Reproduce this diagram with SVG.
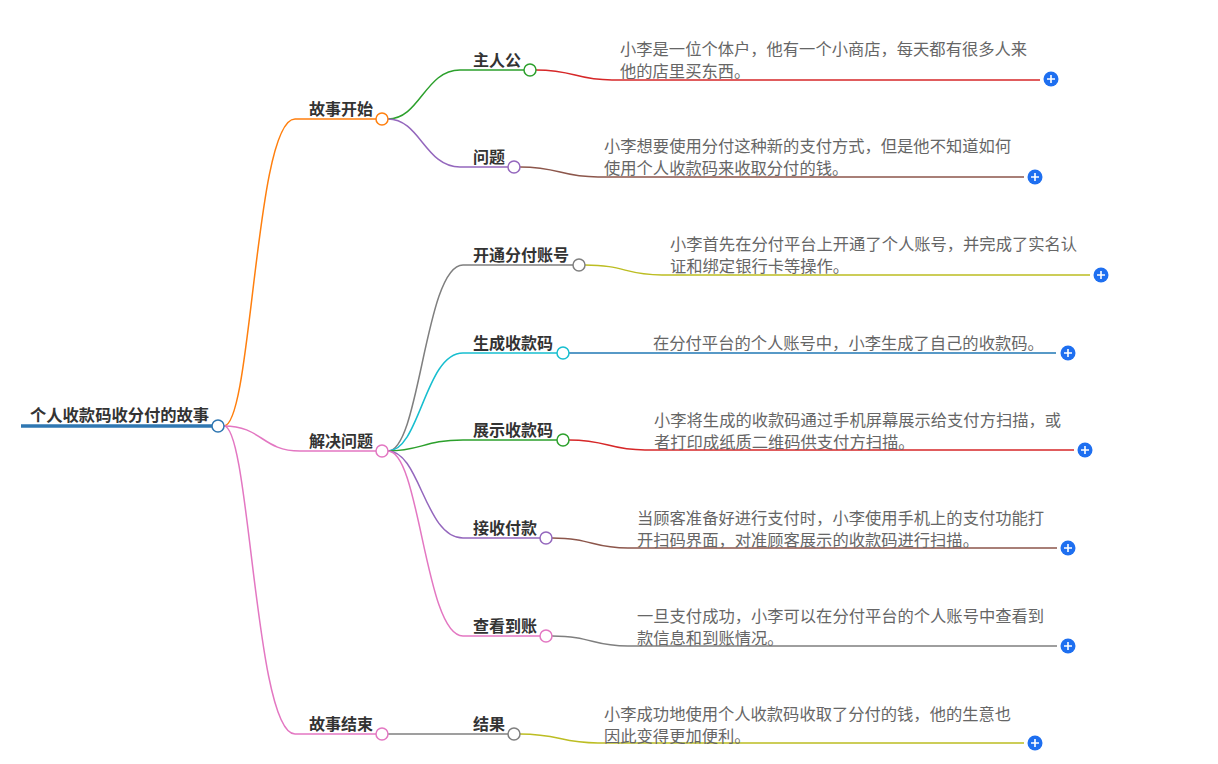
<svg xmlns="http://www.w3.org/2000/svg" width="1218" height="764" viewBox="0 0 1218 764">
<style>
.c{fill:none;stroke-width:1.5}
.n{fill:#fff;stroke-width:1.5}
.t0{font-family:"Noto Sans CJK SC","Noto Sans",sans-serif;font-size:16.3px;font-weight:bold;fill:#333}
.t1{font-family:"Noto Sans CJK SC","Noto Sans",sans-serif;font-size:16px;font-weight:bold;fill:#333}
.t2{font-family:"Noto Sans CJK SC","Noto Sans",sans-serif;font-size:16px;font-weight:bold;fill:#333}
.tl{font-family:"Noto Sans CJK SC","Noto Sans",sans-serif;font-size:16.3px;fill:#666}
.pb{fill:#1e6ff0}
.pl{stroke:#fff;stroke-width:1.6}
</style>
<defs>
<g id="plus"><circle r="7.5" class="pb"/><path d="M-4,0H4M0,-4V4" class="pl"/></g>
</defs>
<rect width="1218" height="764" fill="#fff"/>
<g id="connectors">
<path class="c" stroke="#ff7f0e" d="M224,426 C252,426 255,119 295,119 L376,119"/>
<path class="c" stroke="#e377c2" d="M224,426 C262,426 262,451 300,451 L376,451"/>
<path class="c" stroke="#e377c2" d="M224,426 C250,426 255,734 295,734 L376,734"/>
<path class="c" stroke="#2ca02c" d="M388,119 C420,119 425,70 460,70 L524,70"/>
<path class="c" stroke="#9467bd" d="M388,119 C420,119 425,167 460,167 L508,167"/>
<path class="c" stroke="#7f7f7f" d="M388,451 C420,451 425,265 463,265 L573,265"/>
<path class="c" stroke="#17becf" d="M388,451 C420,451 425,353 463,353 L557,353"/>
<path class="c" stroke="#2ca02c" d="M388,451 C420,451 425,440 463,440 L557,440"/>
<path class="c" stroke="#9467bd" d="M388,451 C420,451 425,538 463,538 L540,538"/>
<path class="c" stroke="#e377c2" d="M388,451 C420,451 425,636 463,636 L540,636"/>
<path class="c" stroke="#7f7f7f" d="M388,734 L508,734"/>
<path class="c" stroke="#d62728" d="M536,70 C575,70 575,80 612,80 L1040,80"/>
<path class="c" stroke="#8c564b" d="M520,167 C560,167 560,177 598,177 L1024,177"/>
<path class="c" stroke="#bcbd22" d="M585,265 C625,265 625,275 662,275 L1090,275"/>
<path class="c" stroke="#1f77b4" d="M569,353 L1056,353"/>
<path class="c" stroke="#d62728" d="M569,440 C608,440 608,450 645,450 L1074,450"/>
<path class="c" stroke="#8c564b" d="M552,538 C592,538 592,548 628,548 L1057,548"/>
<path class="c" stroke="#7f7f7f" d="M552,636 C592,636 592,646 628,646 L1057,646"/>
<path class="c" stroke="#bcbd22" d="M520,734 C560,734 560,743 598,743 L1024,743"/>
</g>
<g id="root">
<path d="M21,426 H212" stroke="#2f77b2" stroke-width="3.5"/>
<text class="t0" x="30" y="421">个人收款码收分付的故事</text>
<circle class="n" cx="218" cy="426" r="6" stroke="#2f77b2"/>
</g>
<g id="n-start"><text class="t1" x="309" y="115">故事开始</text><circle class="n" cx="382" cy="119" r="6" stroke="#ff7f0e"/></g>
<g id="n-solve"><text class="t1" x="309" y="447">解决问题</text><circle class="n" cx="382" cy="451" r="6" stroke="#e377c2"/></g>
<g id="n-end"><text class="t1" x="309" y="730">故事结束</text><circle class="n" cx="382" cy="734" r="6" stroke="#e377c2"/></g>
<g id="n-hero"><text class="t2" x="473" y="66">主人公</text><circle class="n" cx="530" cy="70" r="6" stroke="#2ca02c"/></g>
<g id="n-problem"><text class="t2" x="473" y="163">问题</text><circle class="n" cx="514" cy="167" r="6" stroke="#9467bd"/></g>
<g id="n-open"><text class="t2" x="473" y="261">开通分付账号</text><circle class="n" cx="579" cy="265" r="6" stroke="#7f7f7f"/></g>
<g id="n-gen"><text class="t2" x="473" y="349">生成收款码</text><circle class="n" cx="563" cy="353" r="6" stroke="#17becf"/></g>
<g id="n-show"><text class="t2" x="473" y="436">展示收款码</text><circle class="n" cx="563" cy="440" r="6" stroke="#2ca02c"/></g>
<g id="n-recv"><text class="t2" x="473" y="534">接收付款</text><circle class="n" cx="546" cy="538" r="6" stroke="#9467bd"/></g>
<g id="n-check"><text class="t2" x="473" y="632">查看到账</text><circle class="n" cx="546" cy="636" r="6" stroke="#e377c2"/></g>
<g id="n-result"><text class="t2" x="473" y="730">结果</text><circle class="n" cx="514" cy="734" r="6" stroke="#7f7f7f"/></g>
<g id="l-hero"><text class="tl" x="620" y="55">小李是一位个体户，他有一个小商店，每天都有很多人来</text><text class="tl" x="620" y="77">他的店里买东西。</text><use href="#plus" x="1051" y="79"/></g>
<g id="l-problem"><text class="tl" x="604" y="152">小李想要使用分付这种新的支付方式，但是他不知道如何</text><text class="tl" x="604" y="174">使用个人收款码来收取分付的钱。</text><use href="#plus" x="1035" y="177"/></g>
<g id="l-open"><text class="tl" x="670" y="250">小李首先在分付平台上开通了个人账号，并完成了实名认</text><text class="tl" x="670" y="272">证和绑定银行卡等操作。</text><use href="#plus" x="1101" y="275"/></g>
<g id="l-gen"><text class="tl" x="653" y="349">在分付平台的个人账号中，小李生成了自己的收款码。</text><use href="#plus" x="1068" y="353"/></g>
<g id="l-show"><text class="tl" x="654" y="426">小李将生成的收款码通过手机屏幕展示给支付方扫描，或</text><text class="tl" x="654" y="448">者打印成纸质二维码供支付方扫描。</text><use href="#plus" x="1085" y="450"/></g>
<g id="l-recv"><text class="tl" x="637" y="524">当顾客准备好进行支付时，小李使用手机上的支付功能打</text><text class="tl" x="637" y="546">开扫码界面，对准顾客展示的收款码进行扫描。</text><use href="#plus" x="1068" y="548"/></g>
<g id="l-check"><text class="tl" x="637" y="622">一旦支付成功，小李可以在分付平台的个人账号中查看到</text><text class="tl" x="637" y="644">款信息和到账情况。</text><use href="#plus" x="1068" y="646"/></g>
<g id="l-result"><text class="tl" x="604" y="720">小李成功地使用个人收款码收取了分付的钱，他的生意也</text><text class="tl" x="604" y="742">因此变得更加便利。</text><use href="#plus" x="1035" y="743"/></g>
</svg>
